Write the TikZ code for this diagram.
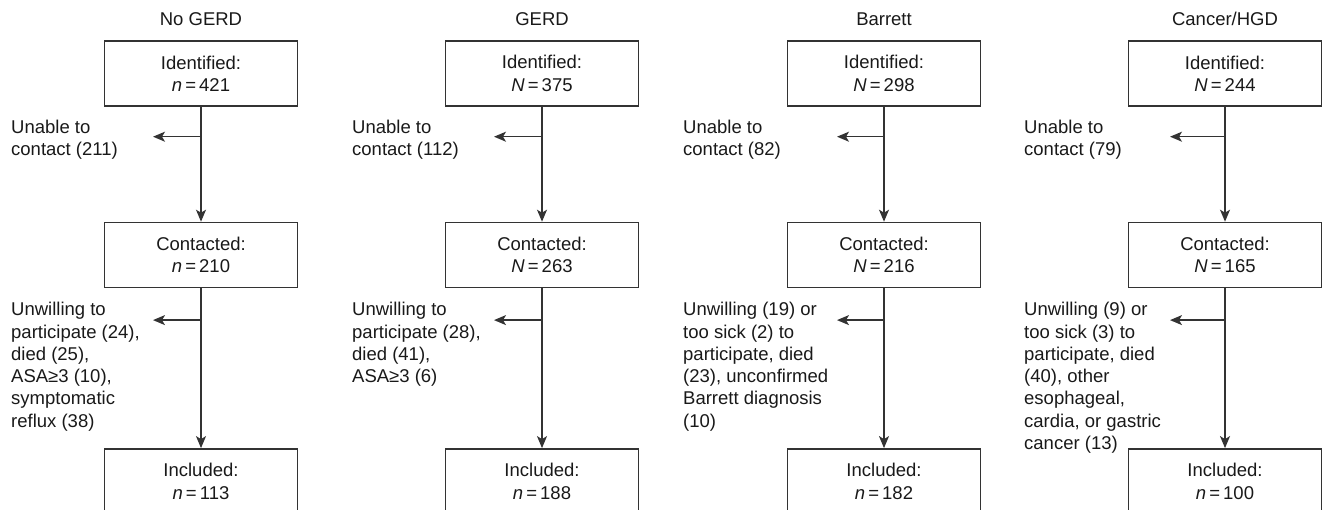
\documentclass[tikz,border=0pt]{standalone}
\usepackage{fontspec}
\setmainfont{Liberation Sans}
\usetikzlibrary{positioning,arrows.meta}

\begin{document}
\begin{tikzpicture}[x=1pt, y=-1pt,
  every node/.style={font=\fontsize{18.5}{22.3}\selectfont, text=black!90, inner sep=0pt},
  stage/.style={draw=black!80, line width=1.4pt, minimum width=193pt, minimum height=65pt, align=center},
  head/.style={anchor=base},
  note/.style={anchor=north west, align=left},
  flow/.style={draw=black!80, line width=1.4pt, -{Stealth[length=12pt, width=10pt, inset=3pt]}}
]
\useasboundingbox (0,0) rectangle (1325,509);

% No GERD
\node[stage] (id1) at (201,73.5) {Identified:\\\textit{n}\,=\,421};
\node[stage, below=115pt of id1] (co1) {Contacted:\\\textit{n}\,=\,210};
\node[stage, below=160pt of co1] (in1) {Included:\\\textit{n}\,=\,113};
\node[head, above=15pt of id1.north, anchor=base] (h1) {No GERD};
\coordinate[below=30pt of id1] (j1);
\coordinate[left=48pt of j1] (e1);
\coordinate[below=32pt of co1] (k1);
\coordinate[left=48pt of k1] (f1);
\node[note] (u1) at ([xshift=-190pt, yshift=17pt]j1) {Unable to\\contact (211)};
\node[note] (w1) at ([xshift=-190pt, yshift=18pt]k1) {Unwilling to\\participate (24),\\died (25),\\ASA≥3 (10),\\symptomatic\\reflux (38)};

% GERD
\node[stage] (id2) at (542,73.5) {Identified:\\\textit{N}\,=\,375};
\node[stage, below=115pt of id2] (co2) {Contacted:\\\textit{N}\,=\,263};
\node[stage, below=160pt of co2] (in2) {Included:\\\textit{n}\,=\,188};
\node[head, above=15pt of id2.north, anchor=base] (h2) {GERD};
\coordinate[below=30pt of id2] (j2);
\coordinate[left=48pt of j2] (e2);
\coordinate[below=32pt of co2] (k2);
\coordinate[left=48pt of k2] (f2);
\node[note] (u2) at ([xshift=-190pt, yshift=17pt]j2) {Unable to\\contact (112)};
\node[note] (w2) at ([xshift=-190pt, yshift=18pt]k2) {Unwilling to\\participate (28),\\died (41),\\ASA≥3 (6)};

% Barrett
\node[stage] (id3) at (884,73.5) {Identified:\\\textit{N}\,=\,298};
\node[stage, below=115pt of id3] (co3) {Contacted:\\\textit{N}\,=\,216};
\node[stage, below=160pt of co3] (in3) {Included:\\\textit{n}\,=\,182};
\node[head, above=15pt of id3.north, anchor=base] (h3) {Barrett};
\coordinate[below=30pt of id3] (j3);
\coordinate[left=47pt of j3] (e3);
\coordinate[below=32pt of co3] (k3);
\coordinate[left=47pt of k3] (f3);
\node[note] (u3) at ([xshift=-201pt, yshift=17pt]j3) {Unable to\\contact (82)};
\node[note] (w3) at ([xshift=-201pt, yshift=18pt]k3) {Unwilling (19) or\\too sick (2) to\\participate, died\\(23), unconfirmed\\Barrett diagnosis\\(10)};

% Cancer/HGD
\node[stage] (id4) at (1225,73.5) {Identified:\\\textit{N}\,=\,244};
\node[stage, below=115pt of id4] (co4) {Contacted:\\\textit{N}\,=\,165};
\node[stage, below=160pt of co4] (in4) {Included:\\\textit{n}\,=\,100};
\node[head, above=15pt of id4.north, anchor=base] (h4) {Cancer/HGD};
\coordinate[below=30pt of id4] (j4);
\coordinate[left=55pt of j4] (e4);
\coordinate[below=32pt of co4] (k4);
\coordinate[left=55pt of k4] (f4);
\node[note] (u4) at ([xshift=-201pt, yshift=17pt]j4) {Unable to\\contact (79)};
\node[note] (w4) at ([xshift=-201pt, yshift=18pt]k4) {Unwilling (9) or\\too sick (3) to\\participate, died\\(40), other\\esophageal,\\cardia, or gastric\\cancer (13)};

\foreach \i in {1,...,4} {
  \draw[flow] (id\i) -- (co\i);
  \draw[flow] (co\i) -- (in\i);
  \draw[flow] (j\i) -- (e\i);
  \draw[flow] (k\i) -- (f\i);
}
\end{tikzpicture}
\end{document}
